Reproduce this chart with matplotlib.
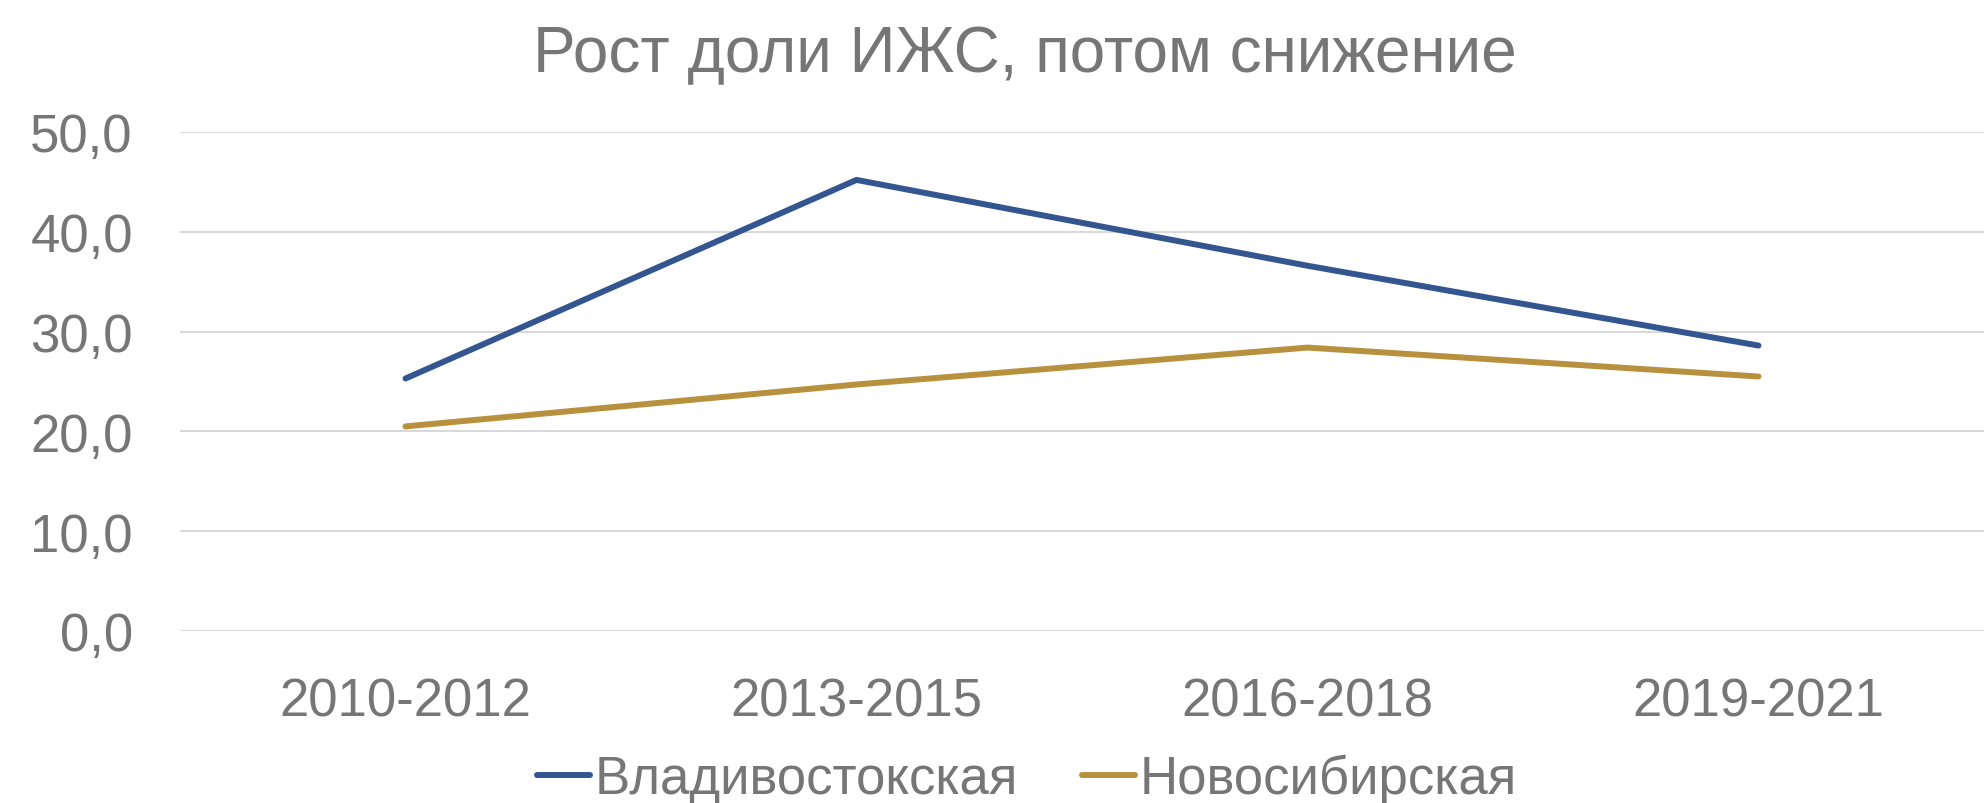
import numpy as np
import matplotlib
matplotlib.use("Agg")
import matplotlib.pyplot as plt
from matplotlib.lines import Line2D

# data
periods = ["2010-2012", "2013-2015", "2016-2018", "2019-2021"]
vladivostok = [25.3, 45.2, 36.6, 28.6]
novosibirsk = [20.5, 24.7, 28.4, 25.5]
series_names = ["Владивостокская", "Новосибирская"]
yticks = [0, 10, 20, 30, 40, 50]

blue = "#335590"
gold = "#B8913F"
text_grey = "#767676"
grid_grey = "#D9D9D9"

plt.rcParams["font.family"] = ["Liberation Sans", "DejaVu Sans"]

fig = plt.figure(figsize=(19.88, 8.04), dpi=100)
ax = fig.add_axes([180 / 1988, 1 - 632 / 804, 1804 / 1988, (632 - 133) / 804])

x = np.arange(len(periods))
ax.plot(x, vladivostok, color=blue, lw=4.3, solid_capstyle="round",
        solid_joinstyle="round", zorder=3)
ax.plot(x, novosibirsk, color=gold, lw=4.3, solid_capstyle="round",
        solid_joinstyle="round", zorder=3)

ax.set_xlim(-0.5, len(periods) - 0.5)
ax.set_ylim(0, 50)
ax.set_yticks(yticks)
ax.set_yticklabels([f"{v:.1f}".replace(".", ",") for v in yticks])
ax.set_xticks(x)
ax.set_xticklabels(periods)

ax.grid(axis="y", color=grid_grey, lw=1.5)
ax.set_axisbelow(True)
for s in ax.spines.values():
    s.set_visible(False)
ax.tick_params(axis="both", length=0, labelsize=38, labelcolor=text_grey)
ax.tick_params(axis="y", pad=34)
ax.tick_params(axis="x", pad=33)

fig.text(1025 / 1988, 1 - 55 / 804, "Рост доли ИЖС, потом снижение",
         ha="center", va="center", fontsize=46, color=text_grey)

handles = [Line2D([], [], color=blue, lw=4.3, solid_capstyle="round"),
           Line2D([], [], color=gold, lw=4.3, solid_capstyle="round")]
leg = fig.legend(handles, series_names, loc="center", ncol=2,
                 bbox_to_anchor=(1027 / 1988, 1 - 780 / 804), frameon=False,
                 fontsize=38, handlelength=1.0, handletextpad=0.1,
                 columnspacing=1.2)
for t in leg.get_texts():
    t.set_color(text_grey)

fig.savefig("out.png", dpi=100, facecolor="white")
